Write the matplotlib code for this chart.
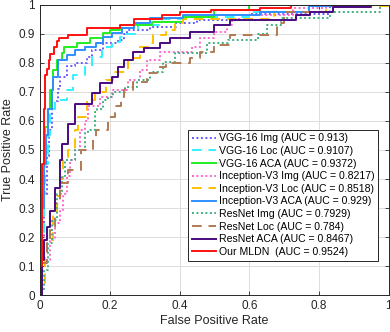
import matplotlib
matplotlib.use("Agg")
import matplotlib.pyplot as plt

plt.rcParams['font.family'] = ['Liberation Sans', 'DejaVu Sans']

# -- ROC curves (fpr where tpr steps up, new tpr) --
vgg_img_fpr = [0, 0, 0.005, 0.012, 0.02, 0.027, 0.033, 0.043, 0.052, 0.057, 0.077, 0.1, 0.135, 0.15, 0.18, 0.225, 0.24, 0.25, 0.315, 0.39, 0.45, 0.6, 0.83, 1.0]
vgg_img_tpr = [0, 0.05, 0.2, 0.35, 0.48, 0.57, 0.64, 0.67, 0.71, 0.75, 0.79, 0.80, 0.82, 0.845, 0.868, 0.88, 0.90, 0.914, 0.925, 0.937, 0.948, 0.97, 1.0, 1.0]

vgg_loc_fpr = [0, 0, 0.005, 0.01, 0.015, 0.022, 0.029, 0.043, 0.077, 0.095, 0.13, 0.15, 0.177, 0.205, 0.23, 0.245, 0.28, 0.35, 0.43, 0.6, 0.78, 1.0]
vgg_loc_tpr = [0, 0.05, 0.2, 0.35, 0.45, 0.55, 0.64, 0.672, 0.707, 0.76, 0.786, 0.82, 0.855, 0.872, 0.89, 0.9, 0.93, 0.95, 0.96, 0.975, 1.0, 1.0]

vgg_aca_fpr = [0, 0, 0.005, 0.01, 0.015, 0.022, 0.029, 0.038, 0.048, 0.062, 0.07, 0.105, 0.143, 0.18, 0.2, 0.23, 0.27, 0.32, 0.41, 0.5, 0.6, 1.0]
vgg_aca_tpr = [0, 0.15, 0.35, 0.5, 0.58, 0.64, 0.707, 0.776, 0.81, 0.834, 0.855, 0.868, 0.886, 0.903, 0.914, 0.92, 0.931, 0.943, 0.96, 0.983, 1.0, 1.0]

inc_img_fpr = [0, 0, 0.006, 0.029, 0.043, 0.057, 0.066, 0.077, 0.086, 0.1, 0.115, 0.13, 0.138, 0.172, 0.205, 0.253, 0.287, 0.306, 0.344, 0.435, 0.46, 0.5, 0.535, 0.55, 0.57, 0.725, 0.82, 1.0]
inc_img_tpr = [0, 0.02, 0.12, 0.19, 0.25, 0.29, 0.35, 0.41, 0.465, 0.5, 0.57, 0.6, 0.65, 0.683, 0.707, 0.74, 0.776, 0.81, 0.838, 0.855, 0.886, 0.907, 0.93, 0.95, 0.966, 0.99, 1.0, 1.0]

inc_loc_fpr = [0, 0.005, 0.014, 0.02, 0.038, 0.048, 0.057, 0.066, 0.08, 0.1, 0.11, 0.135, 0.157, 0.19, 0.21, 0.253, 0.287, 0.315, 0.325, 0.36, 0.387, 0.41, 0.67, 0.82, 1.0]
inc_loc_tpr = [0.0, 0.04, 0.13, 0.19, 0.276, 0.34, 0.4, 0.466, 0.5, 0.57, 0.614, 0.672, 0.7, 0.74, 0.77, 0.817, 0.855, 0.868, 0.897, 0.914, 0.937, 0.95, 0.976, 0.995, 1.0]

inc_aca_fpr = [0, 0, 0.005, 0.01, 0.017, 0.024, 0.033, 0.038, 0.052, 0.077, 0.1, 0.13, 0.16, 0.18, 0.205, 0.235, 0.27, 0.315, 0.41, 0.63, 0.77, 0.9, 1.0]
inc_aca_tpr = [0, 0.1, 0.3, 0.45, 0.55, 0.64, 0.707, 0.75, 0.81, 0.828, 0.845, 0.855, 0.869, 0.89, 0.903, 0.92, 0.937, 0.955, 0.966, 0.977, 0.997, 1.0, 1.0]

res_img_fpr = [0, 0, 0.01, 0.024, 0.033, 0.048, 0.062, 0.072, 0.1, 0.13, 0.138, 0.157, 0.163, 0.18, 0.195, 0.21, 0.243, 0.277, 0.315, 0.353, 0.387, 0.48, 0.54, 0.625, 0.65, 0.69, 0.83, 0.975, 1.0]
res_img_tpr = [0, 0.02, 0.086, 0.18, 0.26, 0.35, 0.41, 0.466, 0.5, 0.56, 0.57, 0.63, 0.64, 0.672, 0.683, 0.7, 0.717, 0.74, 0.77, 0.804, 0.834, 0.868, 0.88, 0.9, 0.93, 0.955, 0.976, 1.0, 1.0]

res_loc_fpr = [0, 0.005, 0.02, 0.029, 0.043, 0.057, 0.08, 0.118, 0.152, 0.16, 0.195, 0.215, 0.232, 0.24, 0.267, 0.306, 0.335, 0.36, 0.43, 0.46, 0.5, 0.545, 0.68, 0.7, 0.84, 1.0]
res_loc_tpr = [0.0, 0.11, 0.18, 0.235, 0.316, 0.386, 0.43, 0.5, 0.545, 0.57, 0.614, 0.65, 0.683, 0.707, 0.735, 0.765, 0.786, 0.8, 0.817, 0.838, 0.862, 0.897, 0.937, 0.976, 1.0, 1.0]

res_aca_fpr = [0, 0.005, 0.01, 0.02, 0.03, 0.043, 0.057, 0.062, 0.08, 0.1, 0.148, 0.172, 0.205, 0.225, 0.24, 0.268, 0.297, 0.344, 0.372, 0.43, 0.5, 0.545, 0.735, 0.775, 0.84, 0.95, 1.0]
res_aca_tpr = [0.0, 0.12, 0.19, 0.235, 0.29, 0.37, 0.466, 0.52, 0.59, 0.66, 0.695, 0.73, 0.75, 0.786, 0.81, 0.838, 0.85, 0.868, 0.886, 0.908, 0.93, 0.948, 0.966, 0.977, 0.993, 1.0, 1.0]

mldn_fpr = [0, 0, 0.005, 0.01, 0.015, 0.02, 0.025, 0.03, 0.04, 0.05, 0.055, 0.08, 0.135, 0.23, 0.27, 0.35, 0.4, 0.49, 0.63, 0.72, 1.0]
mldn_tpr = [0, 0.1, 0.45, 0.64, 0.76, 0.78, 0.81, 0.83, 0.855, 0.875, 0.887, 0.897, 0.92, 0.93, 0.95, 0.966, 0.977, 0.983, 0.99, 1.0, 1.0]

labels = ['VGG-16 Img (AUC = 0.913)', 'VGG-16 Loc (AUC = 0.9107)', 'VGG-16 ACA (AUC = 0.9372)',
          'Inception-V3 Img (AUC = 0.8217)', 'Inception-V3 Loc (AUC = 0.8518)', 'Inception-V3 ACA (AUC = 0.929)',
          'ResNet Img (AUC = 0.7929)', 'ResNet Loc (AUC = 0.784)', 'ResNet ACA (AUC = 0.8467)',
          'Our MLDN  (AUC = 0.9524)']

curves = [(vgg_img_fpr, vgg_img_tpr), (vgg_loc_fpr, vgg_loc_tpr), (vgg_aca_fpr, vgg_aca_tpr),
          (inc_img_fpr, inc_img_tpr), (inc_loc_fpr, inc_loc_tpr), (inc_aca_fpr, inc_aca_tpr),
          (res_img_fpr, res_img_tpr), (res_loc_fpr, res_loc_tpr), (res_aca_fpr, res_aca_tpr),
          (mldn_fpr, mldn_tpr)]

dot = (0, (1, 1.3))
dash = (0, (5, 3.5))
colors = ['#6a5cff', '#33f0ff', '#22ee22', '#ff66cc', '#ffc000', '#2f8fff', '#40b080', '#b07a55', '#4a0a80', '#ff1010']
styles = [dot, dash, '-', dot, dash, '-', dot, dash, '-', '-']

fig = plt.figure(figsize=(3.9, 3.32), dpi=100)
ax = fig.add_axes([0.1026, 0.1114, 0.8944, 0.8736])

for (fx, ty), c, ls, lab in zip(curves, colors, styles, labels):
    ax.step(fx, ty, where='post', color=c, ls=ls, lw=1.4, label=lab)

ax.set_xlim(0, 1)
ax.set_ylim(0, 1)
ax.set_xticks([0, 0.2, 0.4, 0.6, 0.8, 1])
ax.set_xticklabels(['0', '0.2', '0.4', '0.6', '0.8', '1'])
ax.set_yticks([i / 10 for i in range(11)])
ax.set_yticklabels(['0'] + ['%.1f' % (i / 10) for i in range(1, 10)] + ['1'])
ax.grid(True, color='#dddddd', lw=0.7)
ax.set_axisbelow(True)
ax.tick_params(direction='in', top=True, right=True, length=3, labelsize=8.5, colors='#262626', width=0.6)
for s in ax.spines.values():
    s.set_color('#262626')
    s.set_linewidth(0.7)
ax.set_xlabel('False Positive Rate', fontsize=9, color='#262626', labelpad=2)
ax.set_ylabel('True Positive Rate', fontsize=9, color='#262626', labelpad=3)

leg = ax.legend(loc='lower right', bbox_to_anchor=(0.985, 0.1), fontsize=7.6, handlelength=2.3,
                handletextpad=0.3, labelspacing=0.25, borderpad=0.35, fancybox=False,
                edgecolor='#262626', framealpha=1)
leg.get_frame().set_linewidth(0.7)

fig.savefig('out.png', dpi=100)
